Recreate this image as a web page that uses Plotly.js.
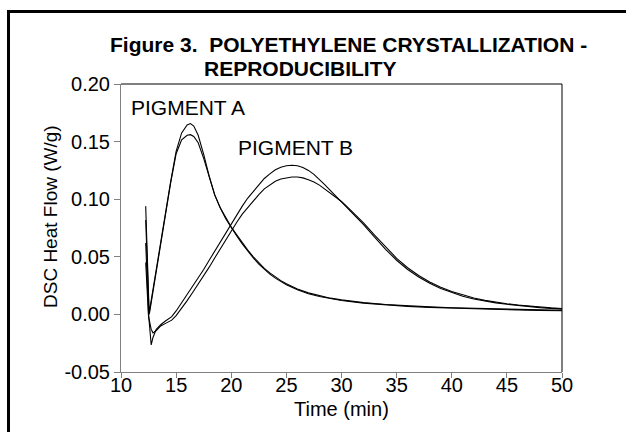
<!DOCTYPE html>
<html>
<head>
<meta charset="utf-8">
<script src="https://cdn.plot.ly/plotly-3.0.1.min.js"></script>
<style>
  html, body { margin: 0; padding: 0; background: #fff; }
  #chart { width: 626px; height: 432px; }
</style>
</head>
<body>
<div id="chart"></div>
<script>
// ---- Data ----
const timeA = [12.24, 12.3, 12.4, 12.5, 12.55, 12.6, 12.8, 13.0, 13.5, 14.0, 14.5, 15.0, 15.5, 16.0, 16.3, 16.6, 17.0, 17.5, 18.0, 18.5, 19.0, 19.5, 20.0, 20.5, 21.0, 21.5, 22.0, 22.5, 23.0, 23.5, 24.0, 24.5, 25.0, 26.0, 27.0, 28.0, 29.0, 30.0, 32.0, 34.0, 36.0, 38.0, 40.0, 42.0, 44.0, 46.0, 48.0, 50.0];
const pigmentA1 = [0.094, 0.072, 0.036, 0.006, 0.002, 0.004, 0.016, 0.028, 0.057, 0.086, 0.115, 0.1415, 0.1575, 0.1645, 0.1657, 0.1635, 0.1555, 0.139, 0.120, 0.104, 0.0925, 0.083, 0.075, 0.068, 0.0612, 0.0548, 0.049, 0.0437, 0.039, 0.035, 0.0315, 0.0284, 0.0257, 0.0213, 0.018, 0.0155, 0.0136, 0.0121, 0.0098, 0.0082, 0.007, 0.0061, 0.0054, 0.0048, 0.0043, 0.0039, 0.0035, 0.0032];
const pigmentA2 = [0.082, 0.064, 0.032, 0.004, 0.000, 0.002, 0.014, 0.027, 0.056, 0.085, 0.114, 0.1395, 0.1515, 0.1555, 0.156, 0.1545, 0.149, 0.1355, 0.1185, 0.1035, 0.0925, 0.0835, 0.0758, 0.069, 0.0622, 0.0558, 0.050, 0.0447, 0.040, 0.036, 0.0325, 0.0293, 0.0266, 0.0221, 0.0187, 0.0161, 0.0141, 0.0126, 0.0102, 0.0086, 0.0074, 0.0065, 0.0058, 0.0052, 0.0047, 0.0043, 0.0039, 0.0036];

const timeB = [12.24, 12.35, 12.5, 12.74, 12.9, 13.2, 13.6, 14.0, 14.6, 15.0, 15.5, 16.0, 16.5, 17.0, 17.5, 18.0, 18.5, 19.0, 19.5, 20.0, 20.5, 21.0, 21.5, 22.0, 22.5, 23.0, 23.5, 24.0, 24.5, 25.0, 25.5, 26.0, 26.5, 27.0, 27.5, 28.0, 28.5, 29.0, 29.5, 30.0, 30.5, 31.0, 31.5, 32.0, 33.0, 34.0, 35.0, 36.0, 37.0, 38.0, 39.0, 40.0, 41.0, 42.0, 43.0, 44.0, 45.0, 46.0, 47.0, 48.0, 49.0, 50.0];
const pigmentB1 = [0.062, 0.030, 0.000, -0.0265, -0.020, -0.013, -0.009, -0.006, -0.002, 0.003, 0.010, 0.017, 0.024, 0.031, 0.039, 0.047, 0.055, 0.063, 0.071, 0.079, 0.087, 0.094, 0.101, 0.107, 0.113, 0.118, 0.122, 0.1255, 0.1278, 0.129, 0.1295, 0.129, 0.1275, 0.125, 0.1215, 0.1172, 0.1125, 0.1075, 0.1025, 0.0975, 0.0925, 0.0875, 0.0825, 0.078, 0.067, 0.0565, 0.047, 0.039, 0.0325, 0.027, 0.0225, 0.0188, 0.0158, 0.0134, 0.0115, 0.010, 0.0088, 0.0077, 0.0067, 0.0059, 0.0052, 0.0046];
const pigmentB2 = [0.045, 0.022, -0.002, -0.013, -0.016, -0.014, -0.010, -0.008, -0.005, -0.001, 0.005, 0.012, 0.019, 0.026, 0.033, 0.041, 0.049, 0.057, 0.065, 0.072, 0.080, 0.087, 0.093, 0.099, 0.104, 0.109, 0.1125, 0.1155, 0.1175, 0.1187, 0.1193, 0.1193, 0.1185, 0.1168, 0.115, 0.1122, 0.1088, 0.1052, 0.102, 0.098, 0.0935, 0.0888, 0.084, 0.0795, 0.0688, 0.0585, 0.0487, 0.0405, 0.0338, 0.0282, 0.0236, 0.0198, 0.0167, 0.0142, 0.0122, 0.0106, 0.0093, 0.0082, 0.0072, 0.0064, 0.0057, 0.0051];

const yTickVals = [-0.05, 0.00, 0.05, 0.10, 0.15, 0.20];
const yTickText = ["-0.05", "0.00", "0.05", "0.10", "0.15", "0.20"];
const xTickVals = [10, 15, 20, 25, 30, 35, 40, 45, 50];
const xTickText = ["10", "15", "20", "25", "30", "35", "40", "45", "50"];

const titleLine1 = "Figure 3.  POLYETHYLENE CRYSTALLIZATION -";
const titleLine2 = "REPRODUCIBILITY";
const xTitle = "Time (min)";
const yTitle = "DSC Heat Flow (W/g)";
const labelA = "PIGMENT A";
const labelB = "PIGMENT B";

// ---- Layout geometry ----
const W = 626, H = 432;
const M = { l: 121, r: 64, t: 84, b: 60 };
const PW = W - M.l - M.r, PH = H - M.t - M.b;
const px = x => (x - M.l) / PW;       // pixel -> paper x
const py = y => (H - M.b - y) / PH;   // pixel -> paper y

const FONT = "Liberation Sans, Arial, sans-serif";
const line = { color: "#000", width: 1.1 };

const traces = [
  { x: timeA, y: pigmentA1, mode: "lines", line: line, hoverinfo: "skip" },
  { x: timeA, y: pigmentA2, mode: "lines", line: line, hoverinfo: "skip" },
  { x: timeB, y: pigmentB1, mode: "lines", line: line, hoverinfo: "skip" },
  { x: timeB, y: pigmentB2, mode: "lines", line: line, hoverinfo: "skip" }
];

const layout = {
  width: W, height: H,
  margin: M,
  showlegend: false,
  paper_bgcolor: "#fff", plot_bgcolor: "#fff",
  font: { family: FONT, size: 20, color: "#000" },
  xaxis: {
    range: [10, 50], tickvals: xTickVals, ticktext: xTickText,
    showgrid: false, zeroline: false,
    showline: true, linecolor: "#808080", linewidth: 1,
    ticks: "outside", ticklen: 5, tickcolor: "#808080", tickwidth: 1,
    ticklabelstandoff: -10,
    tickfont: { size: 20 }
  },
  yaxis: {
    range: [-0.05, 0.20], tickvals: yTickVals, ticktext: yTickText,
    showgrid: false, zeroline: false,
    showline: true, linecolor: "#808080", linewidth: 1,
    ticks: "outside", ticklen: 6, tickcolor: "#808080", tickwidth: 1,
    tickfont: { size: 20 }
  },
  shapes: [
    // top and right plot borders
    { type: "line", xref: "paper", yref: "paper", x0: 0, x1: 1, y0: 1, y1: 1, line: { color: "#000", width: 1 } },
    { type: "line", xref: "paper", yref: "paper", x0: 1, x1: 1, y0: 0, y1: 1, line: { color: "#000", width: 1 } },
    // outer frame (extends past the window on the right and bottom)
    { type: "rect", xref: "paper", yref: "paper", x0: px(8.5), x1: px(700), y0: py(500), y1: py(11.5), line: { color: "#000", width: 3 } }
  ],
  annotations: [
    { text: "<b>" + titleLine1 + "</b>", xref: "paper", yref: "paper", x: px(348), y: py(44), xanchor: "center", yanchor: "middle", showarrow: false, font: { size: 21 } },
    { text: "<b>" + titleLine2 + "</b>", xref: "paper", yref: "paper", x: px(300), y: py(68), xanchor: "center", yanchor: "middle", showarrow: false, font: { size: 21 } },
    { text: xTitle, xref: "paper", yref: "paper", x: px(341.5), y: py(409), xanchor: "center", yanchor: "middle", showarrow: false, font: { size: 20 } },
    { text: yTitle, xref: "paper", yref: "paper", x: px(50), y: py(217), xanchor: "center", yanchor: "middle", textangle: -90, showarrow: false, font: { size: 19 } },
    { text: labelA, xref: "x", yref: "y", x: 16.08, y: 0.1796, xanchor: "center", yanchor: "middle", showarrow: false, font: { size: 21 } },
    { text: labelB, xref: "x", yref: "y", x: 25.83, y: 0.1448, xanchor: "center", yanchor: "middle", showarrow: false, font: { size: 21 } }
  ]
};

Plotly.newPlot("chart", traces, layout, { staticPlot: true, displayModeBar: false });
</script>
</body>
</html>
